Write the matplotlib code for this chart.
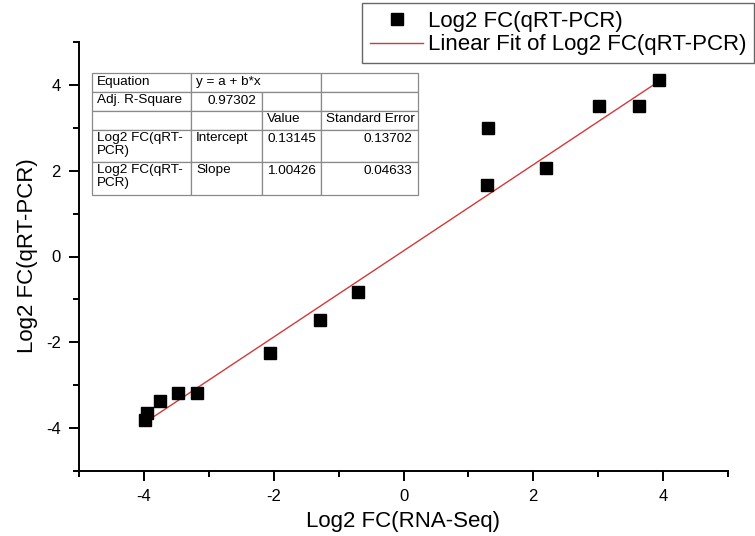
import numpy as np
import matplotlib
matplotlib.use('Agg')
import matplotlib.pyplot as plt
from matplotlib.patches import Rectangle

plt.rcParams['font.family'] = ['Liberation Sans', 'DejaVu Sans']
plt.rcParams['axes.unicode_minus'] = False

# Data
rna_seq = [-3.98, -3.95, -3.75, -3.47, -3.18, -2.06, -1.29, -0.70,
           1.30, 1.28, 2.20, 3.01, 3.63, 3.94]
qrt_pcr = [-3.81, -3.65, -3.37, -3.18, -3.18, -2.25, -1.48, -0.83,
           3.00, 1.67, 2.06, 3.51, 3.51, 4.11]

# Linear fit parameters (from the fit table)
intercept = 0.13145
slope = 1.00426

x_ticks = [-4, -2, 0, 2, 4]
y_ticks = [-4, -2, 0, 2, 4]

W, H = 755, 536
fig = plt.figure(figsize=(W / 100, H / 100), dpi=100)

def fx(px):
    return px / W

def fy(py):
    return 1 - py / H

ax = fig.add_axes([fx(79), fy(471), fx(728) - fx(79), fy(42) - fy(471)])

ax.plot(rna_seq, qrt_pcr, linestyle='none', marker='s', markersize=8.5,
        color='black', label='Log2 FC(qRT-PCR)', zorder=3)

xfit = np.array([min(rna_seq), max(rna_seq)])
ax.plot(xfit, intercept + slope * xfit, color='#d03a3a', linewidth=1.0,
        label='Linear Fit of Log2 FC(qRT-PCR)', zorder=2)

ax.set_xlim(-5, 5)
ax.set_ylim(-5, 5)
ax.set_xticks(x_ticks)
ax.set_yticks(y_ticks)
ax.set_xticks(np.arange(-5, 6, 2), minor=True)
ax.set_yticks(np.arange(-5, 6, 2), minor=True)
ax.spines['top'].set_visible(False)
ax.spines['right'].set_visible(False)
ax.spines['left'].set_linewidth(1.4)
ax.spines['bottom'].set_linewidth(1.4)
ax.tick_params(which='major', direction='out', length=7, width=1.4, labelsize=12, pad=6)
ax.tick_params(which='minor', direction='out', length=4, width=1.4)

fig.text(fx(403), fy(522), 'Log2 FC(RNA-Seq)', fontsize=16, ha='center', va='center')
fig.text(fx(28), fy(256), 'Log2 FC(qRT-PCR)', fontsize=16, ha='center', va='center',
         rotation=90)

leg = fig.legend(loc='upper right', bbox_to_anchor=(fx(754), fy(3)), fontsize=16,
                 frameon=True, fancybox=False, edgecolor='#666666', framealpha=1,
                 handlelength=2.4, handletextpad=0.2, borderpad=0.35, labelspacing=0.12,
                 borderaxespad=0)
leg.get_frame().set_linewidth(1.0)

# Fit result table
col_x = [92, 191, 262, 321, 418]
row_y = [73, 92, 111, 130, 162, 195]
cells = [
    (0, 0, 1, 'Equation', 'left'),
    (0, 1, 2, 'y = a + b*x', 'left'),
    (0, 3, 1, '', 'left'),
    (1, 0, 1, 'Adj. R-Square', 'left'),
    (1, 1, 1, '0.97302', 'right'),
    (1, 2, 1, '', 'left'),
    (1, 3, 1, '', 'left'),
    (2, 0, 1, '', 'left'),
    (2, 1, 1, '', 'left'),
    (2, 2, 1, 'Value', 'left'),
    (2, 3, 1, 'Standard Error', 'left'),
    (3, 0, 1, 'Log2 FC(qRT-\nPCR)', 'left'),
    (3, 1, 1, 'Intercept', 'left'),
    (3, 2, 1, '0.13145', 'left'),
    (3, 3, 1, '0.13702', 'right'),
    (4, 0, 1, 'Log2 FC(qRT-\nPCR)', 'left'),
    (4, 1, 1, 'Slope', 'left'),
    (4, 2, 1, '1.00426', 'left'),
    (4, 3, 1, '0.04633', 'right'),
]
for r, c, span, txt, ha in cells:
    x0, x1 = col_x[c], col_x[c + span]
    y0, y1 = row_y[r], row_y[r + 1]
    fig.add_artist(Rectangle((fx(x0), fy(y1)), fx(x1) - fx(x0), fy(y0) - fy(y1),
                             facecolor='white', edgecolor='#8a8a8a', linewidth=0.9,
                             zorder=5))
    if txt:
        tx = x0 + 5 if ha == 'left' else x1 - 6
        fig.text(fx(tx), fy(y0 + 2.5), txt, fontsize=9.7, ha=ha, va='top',
                 linespacing=1.07, zorder=6)

fig.savefig('out.png', dpi=100)
